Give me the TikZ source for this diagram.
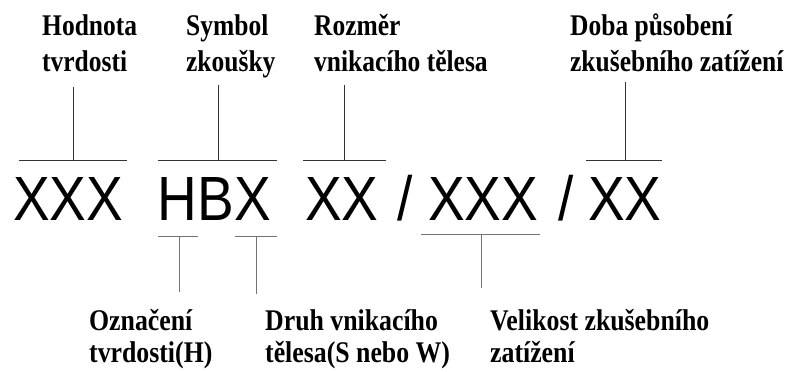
\documentclass[tikz,border=0pt]{standalone}
\usepackage{fontspec}
\setmainfont{Liberation Serif}
\newfontfamily\bigsans{Liberation Sans}
\begin{document}
\begin{tikzpicture}[x=1pt,y=-1pt,
  toplab/.style={font=\fontsize{30}{36}\selectfont\bfseries, xscale=0.85, align=left, inner sep=0pt, anchor=base west},
  botlab/.style={font=\fontsize{30}{32}\selectfont\bfseries, xscale=0.86, align=left, inner sep=0pt, anchor=base west},
  code/.style={font=\bigsans\fontsize{62.5}{70}\selectfont, xscale=0.88, inner sep=0pt, anchor=base west},
  topline/.style={draw=black!80, line width=1pt},
  botline/.style={draw=black!55, line width=1pt}]
\useasboundingbox (0,0) rectangle (788,372);

% top labels (anchor = baseline of last line)
\node[toplab] (hod) at (42,71) {Hodnota\\tvrdosti};
\node[toplab] (sym) at (186,71) {Symbol\\zkoušky};
\node[toplab] (roz) at (314,71) {Rozměr\\vnikacího tělesa};
\node[toplab] (dob) at (570,71) {Doba působení\\zkušebního zatížení};

% code
\node[code] (c1) at (13,220) {XXX};
\node[code] (c2) at (157.6,220) {HBX};
\node[code] (c3) at (305,220) {XX};
\node[code] (s1) at (397,220) {/};
\node[code] (c4) at (428,220) {XXX};
\node[code] (s2) at (558,220) {/};
\node[code] (c5) at (588,220) {XX};

% bottom labels
\node[botlab] (ozn) at (89,362) {Označení\\tvrdosti(H)};
\node[botlab] (dru) at (265,362) {Druh vnikacího\\tělesa(S nebo W)};
\node[botlab] (vel) at (490,362) {Velikost zkušebního\\zatížení};

% top connectors
\coordinate (a1) at (19,160);  \coordinate (b1) at (127,160);
\coordinate (u1) at (73,87);   \coordinate (d1) at (73,160);
\coordinate (a2) at (158,160); \coordinate (b2) at (277,160);
\coordinate (u2) at (218,85);  \coordinate (d2) at (218,160);
\coordinate (a3) at (303,160); \coordinate (b3) at (386,160);
\coordinate (u3) at (344,85);  \coordinate (d3) at (344,160);
\coordinate (a4) at (586,160); \coordinate (b4) at (662,160);
\coordinate (u4) at (625,82);  \coordinate (d4) at (625,160);
\foreach \i in {1,2,3,4}{
  \draw[topline] (a\i) -- (b\i);
  \draw[topline] (u\i) -- (d\i);
}

% bottom connectors
\coordinate (e1) at (158,236); \coordinate (f1) at (198,236);
\coordinate (g1) at (179,236); \coordinate (h1) at (179,292);
\coordinate (e2) at (235,236); \coordinate (f2) at (277,236);
\coordinate (g2) at (256,236); \coordinate (h2) at (256,294);
\coordinate (e3) at (421,234); \coordinate (f3) at (540,234);
\coordinate (g3) at (481,234); \coordinate (h3) at (481,288);
\foreach \i in {1,2,3}{
  \draw[botline] (e\i) -- (f\i);
  \draw[botline] (g\i) -- (h\i);
}
\end{tikzpicture}
\end{document}
